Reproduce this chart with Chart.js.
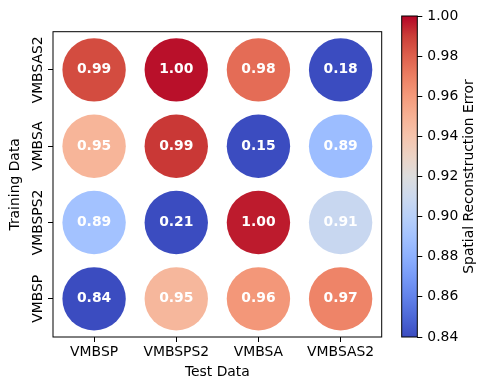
<!DOCTYPE html>
<html>
<head>
<meta charset="utf-8">
<script src="https://cdn.jsdelivr.net/npm/chart.js@4"></script>
<style>
  body { margin: 0; background: #fff; }
  #wrap { position: relative; width: 487px; height: 390px; }
  #wrap canvas { position: absolute; left: 0; top: 0; }
</style>
</head>
<body>
<div id="wrap">
  <canvas id="mainChart" width="487" height="390"></canvas>
  <canvas id="colorBar" width="487" height="390"></canvas>
</div>
<script>
// Axis categories
const testLabels = ['VMBSP', 'VMBSPS2', 'VMBSA', 'VMBSAS2'];
const trainLabels = ['VMBSP', 'VMBSPS2', 'VMBSA', 'VMBSAS2'];

// Spatial reconstruction error, one array per training set (test sets in order above)
const trainVMBSP   = [0.838, 0.947, 0.961, 0.968];
const trainVMBSPS2 = [0.890, 0.213, 0.996, 0.908];
const trainVMBSA   = [0.948, 0.991, 0.152, 0.887];
const trainVMBSAS2 = [0.986, 0.998, 0.976, 0.181];
const errorRows = [trainVMBSP, trainVMBSPS2, trainVMBSA, trainVMBSAS2];

// Colour scale range and colorbar ticks
const colorMin = 0.84;
const colorMax = 1.00;
const colorTicks = [0.84, 0.86, 0.88, 0.90, 0.92, 0.94, 0.96, 0.98, 1.00];

// coolwarm colormap samples
const coolwarm = [
    [59, 76, 192], [77, 104, 215], [98, 130, 234], [119, 154, 247],
    [141, 176, 254], [163, 194, 255], [184, 208, 249], [204, 217, 238],
    [221, 221, 221], [236, 211, 197], [245, 196, 173], [247, 177, 148],
    [244, 154, 123], [236, 127, 99], [222, 96, 77], [203, 62, 56],
    [180, 4, 38]
];

function cmap(t) {
    t = Math.min(1, Math.max(0, t));
    const pos = t * (coolwarm.length - 1);
    const i = Math.min(Math.floor(pos), coolwarm.length - 2);
    const f = pos - i;
    const a = coolwarm[i], b = coolwarm[i + 1];
    const c = a.map((v, k) => Math.round(v + (b[k] - v) * f));
    return `rgb(${c[0]}, ${c[1]}, ${c[2]})`;
}

function valueColor(v) {
    return cmap((v - colorMin) / (colorMax - colorMin));
}

const FONT = 'DejaVu Sans';
const FS = 13.9;
Chart.defaults.font.family = FONT;
Chart.defaults.font.size = FS;
Chart.defaults.color = '#000';

// Build bubble points from the rows
const points = [];
errorRows.forEach((row, yi) => {
    row.forEach((v, xi) => points.push({ x: xi, y: yi, v: v }));
});

// Frame, y tick labels and value labels
const mainDecor = {
    id: 'mainDecor',
    afterDraw(chart) {
        const { ctx, chartArea: a } = chart;
        const yScale = chart.scales.y;
        ctx.save();
        ctx.strokeStyle = '#000';
        ctx.lineWidth = 1;
        ctx.strokeRect(a.left, a.top, a.right - a.left, a.bottom - a.top);

        // rotated training labels
        ctx.fillStyle = '#000';
        ctx.font = `${FS}px "${FONT}"`;
        ctx.textAlign = 'center';
        ctx.textBaseline = 'alphabetic';
        trainLabels.forEach((lab, i) => {
            ctx.save();
            ctx.translate(yScale.right - 11.5, yScale.getPixelForValue(i));
            ctx.rotate(-Math.PI / 2);
            ctx.fillText(lab, 0, 0);
            ctx.restore();
        });

        // values inside circles
        const meta = chart.getDatasetMeta(0);
        ctx.fillStyle = '#fff';
        ctx.font = `bold ${FS}px "${FONT}"`;
        ctx.textBaseline = 'middle';
        meta.data.forEach((el, i) => {
            ctx.fillText(points[i].v.toFixed(2), el.x, el.y);
        });
        ctx.restore();
    }
};

new Chart(document.getElementById('mainChart'), {
    type: 'bubble',
    data: {
        datasets: [{
            data: points,
            radius: 31.7,
            borderWidth: 0,
            backgroundColor: ctx => ctx.raw ? valueColor(ctx.raw.v) : '#000'
        }]
    },
    options: {
        responsive: false,
        animation: false,
        devicePixelRatio: 1,
        layout: { padding: { left: 0, right: 105.3, top: 16, bottom: 0 } },
        plugins: { legend: { display: false }, tooltip: { enabled: false } },
        scales: {
            x: {
                type: 'linear',
                min: -0.5,
                max: 3.5,
                afterBuildTicks: s => { s.ticks = testLabels.map((_, i) => ({ value: i })); },
                afterFit: s => { s.height = 53; },
                ticks: { callback: v => testLabels[v], padding: 2, maxRotation: 0, autoSkip: false, color: '#000' },
                grid: { drawOnChartArea: false, tickLength: 5, color: '#000' },
                border: { display: false },
                title: { display: true, text: 'Test Data', color: '#000', padding: { top: 0, bottom: 9.7 } }
            },
            y: {
                type: 'linear',
                min: -0.5,
                max: 3.5,
                afterBuildTicks: s => { s.ticks = trainLabels.map((_, i) => ({ value: i })); },
                afterFit: s => { s.width = 53; },
                ticks: { display: false },
                grid: { drawOnChartArea: false, tickLength: 5, color: '#000' },
                border: { display: false },
                title: { display: true, text: 'Training Data', color: '#000', padding: { top: 7, bottom: 0 } }
            }
        }
    },
    plugins: [mainDecor]
});

// Colorbar frame and label
const barDecor = {
    id: 'barDecor',
    afterDraw(chart) {
        const { ctx, chartArea: a } = chart;
        ctx.save();
        ctx.strokeStyle = '#000';
        ctx.lineWidth = 1;
        ctx.strokeRect(a.left, a.top, a.right - a.left, a.bottom - a.top);
        ctx.fillStyle = '#000';
        ctx.font = `${FS}px "${FONT}"`;
        ctx.textAlign = 'center';
        ctx.textBaseline = 'middle';
        ctx.translate(469, (a.top + a.bottom) / 2);
        ctx.rotate(-Math.PI / 2);
        ctx.fillText('Spatial Reconstruction Error', 0, 0);
        ctx.restore();
    }
};

new Chart(document.getElementById('colorBar'), {
    type: 'bar',
    data: {
        labels: [''],
        datasets: [{
            data: [[colorMin, colorMax]],
            borderWidth: 0,
            barPercentage: 1,
            categoryPercentage: 1,
            backgroundColor: ctx => {
                const a = ctx.chart.chartArea;
                if (!a) return '#ccc';
                const g = ctx.chart.ctx.createLinearGradient(0, a.bottom, 0, a.top);
                coolwarm.forEach((c, i) => {
                    g.addColorStop(i / (coolwarm.length - 1), `rgb(${c[0]}, ${c[1]}, ${c[2]})`);
                });
                return g;
            }
        }]
    },
    options: {
        responsive: false,
        animation: false,
        devicePixelRatio: 1,
        layout: { padding: { left: 401.7, right: 0, top: 16, bottom: 53 } },
        plugins: { legend: { display: false }, tooltip: { enabled: false } },
        scales: {
            x: { display: false },
            y: {
                position: 'right',
                min: colorMin,
                max: colorMax,
                afterBuildTicks: s => { s.ticks = colorTicks.map(v => ({ value: v })); },
                afterFit: s => { s.width = 69.7; },
                ticks: { callback: v => v.toFixed(2), padding: 5, color: '#000', autoSkip: false },
                grid: { drawOnChartArea: false, tickLength: 5, color: '#000' },
                border: { display: false }
            }
        }
    },
    plugins: [barDecor]
});
</script>
</body>
</html>
